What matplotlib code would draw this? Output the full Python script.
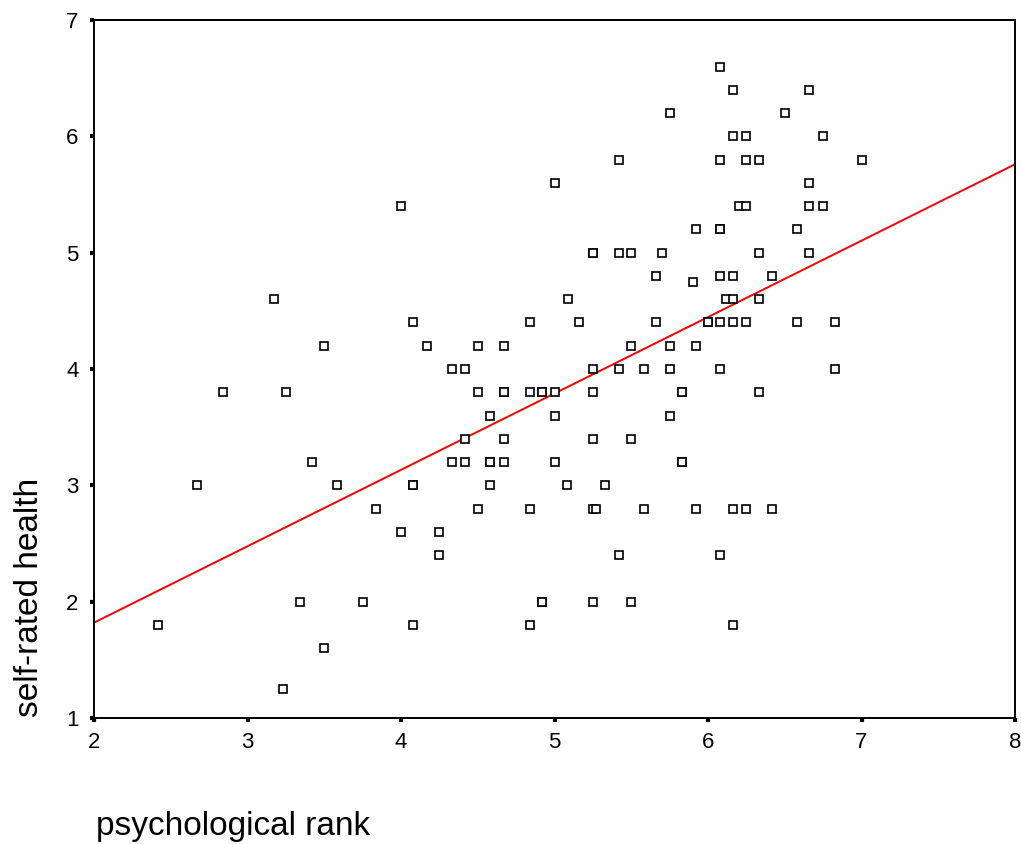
import matplotlib
matplotlib.use("Agg")
import matplotlib.pyplot as plt
import numpy as np

plt.rcParams['font.family'] = ['Liberation Sans', 'DejaVu Sans']

# Data, grouped by self-rated health value
rows = [
    (6.6, [6.08]),
    (6.4, [6.16, 6.66]),
    (6.2, [5.75, 6.5]),
    (6.0, [6.16, 6.25, 6.75]),
    (5.8, [5.42, 6.08, 6.25, 6.33, 7.0]),
    (5.6, [5.0, 6.66]),
    (5.4, [4.0, 6.2, 6.25, 6.66, 6.75]),
    (5.2, [5.92, 6.08, 6.08, 6.58]),
    (5.0, [5.25, 5.25, 5.42, 5.5, 5.7, 6.33, 6.66]),
    (4.8, [5.66, 6.08, 6.16, 6.42]),
    (4.75, [5.9]),
    (4.6, [3.17, 5.09, 6.12, 6.16, 6.33]),
    (4.4, [4.08, 4.84, 5.16, 5.66, 6.0, 6.0, 6.08, 6.16, 6.25, 6.58, 6.83]),
    (4.2, [3.5, 4.17, 4.5, 4.67, 5.5, 5.75, 5.92]),
    (4.0, [4.33, 4.42, 5.25, 5.42, 5.58, 5.75, 6.08, 6.83]),
    (3.8, [2.84, 3.25, 4.5, 4.67, 4.67, 4.84, 4.92, 4.92, 5.0, 5.25, 5.83, 5.83, 6.33]),
    (3.6, [4.58, 5.0, 5.75]),
    (3.4, [4.42, 4.67, 5.25, 5.5]),
    (3.2, [3.42, 4.33, 4.42, 4.58, 4.58, 4.67, 5.0, 5.83, 5.83]),
    (3.0, [2.67, 3.58, 4.08, 4.08, 4.58, 5.08, 5.33]),
    (2.8, [3.84, 4.5, 4.84, 5.25, 5.27, 5.58, 5.92, 6.16, 6.25, 6.42]),
    (2.6, [4.0, 4.25]),
    (2.4, [4.25, 5.42, 6.08]),
    (2.0, [3.34, 3.75, 4.92, 4.92, 5.25, 5.5]),
    (1.8, [2.42, 4.08, 4.84, 6.16]),
    (1.6, [3.5]),
    (1.25, [3.23]),
]
psych_rank = [x for y, xs in rows for x in xs]
self_health = [y for y, xs in rows for x in xs]

# Fit line (value at x=2 and x=8)
line_x = [2, 8]
line_y = [1.82, 5.76]

x_ticks = [2, 3, 4, 5, 6, 7, 8]
y_ticks = [1, 2, 3, 4, 5, 6, 7]

fig = plt.figure(figsize=(10.21, 8.44), dpi=100)
ax = fig.add_axes([94/1021, 1-718/844, (1015-94)/1021, (718-20)/844])

ax.plot(psych_rank, self_health, linestyle='none', marker='s', markersize=6.3,
        markerfacecolor='white', markeredgecolor='black', markeredgewidth=1.2, zorder=3)
ax.plot(line_x, line_y, color='#ff0000', linewidth=1.4, zorder=2)

ax.set_xlim(2, 8)
ax.set_ylim(1, 7)
ax.set_xticks(x_ticks)
ax.set_yticks(y_ticks)
ax.set_xticklabels([str(t) for t in x_ticks])
ax.set_yticklabels([str(t) for t in y_ticks])
ax.tick_params(axis='both', direction='out', length=3, width=3, color='black',
               labelsize=16)
ax.tick_params(axis='y', pad=8)
ax.tick_params(axis='x', pad=7)
for s in ax.spines.values():
    s.set_linewidth(1.4)
    s.set_color('black')

fig.text(96/1021, 1-826/844, 'psychological rank', fontsize=24, ha='left', va='center')
fig.text(30/1021, 1-717/844, 'self-rated health', fontsize=24, rotation=90,
         ha='center', va='bottom')

fig.savefig('out.png', dpi=100)
